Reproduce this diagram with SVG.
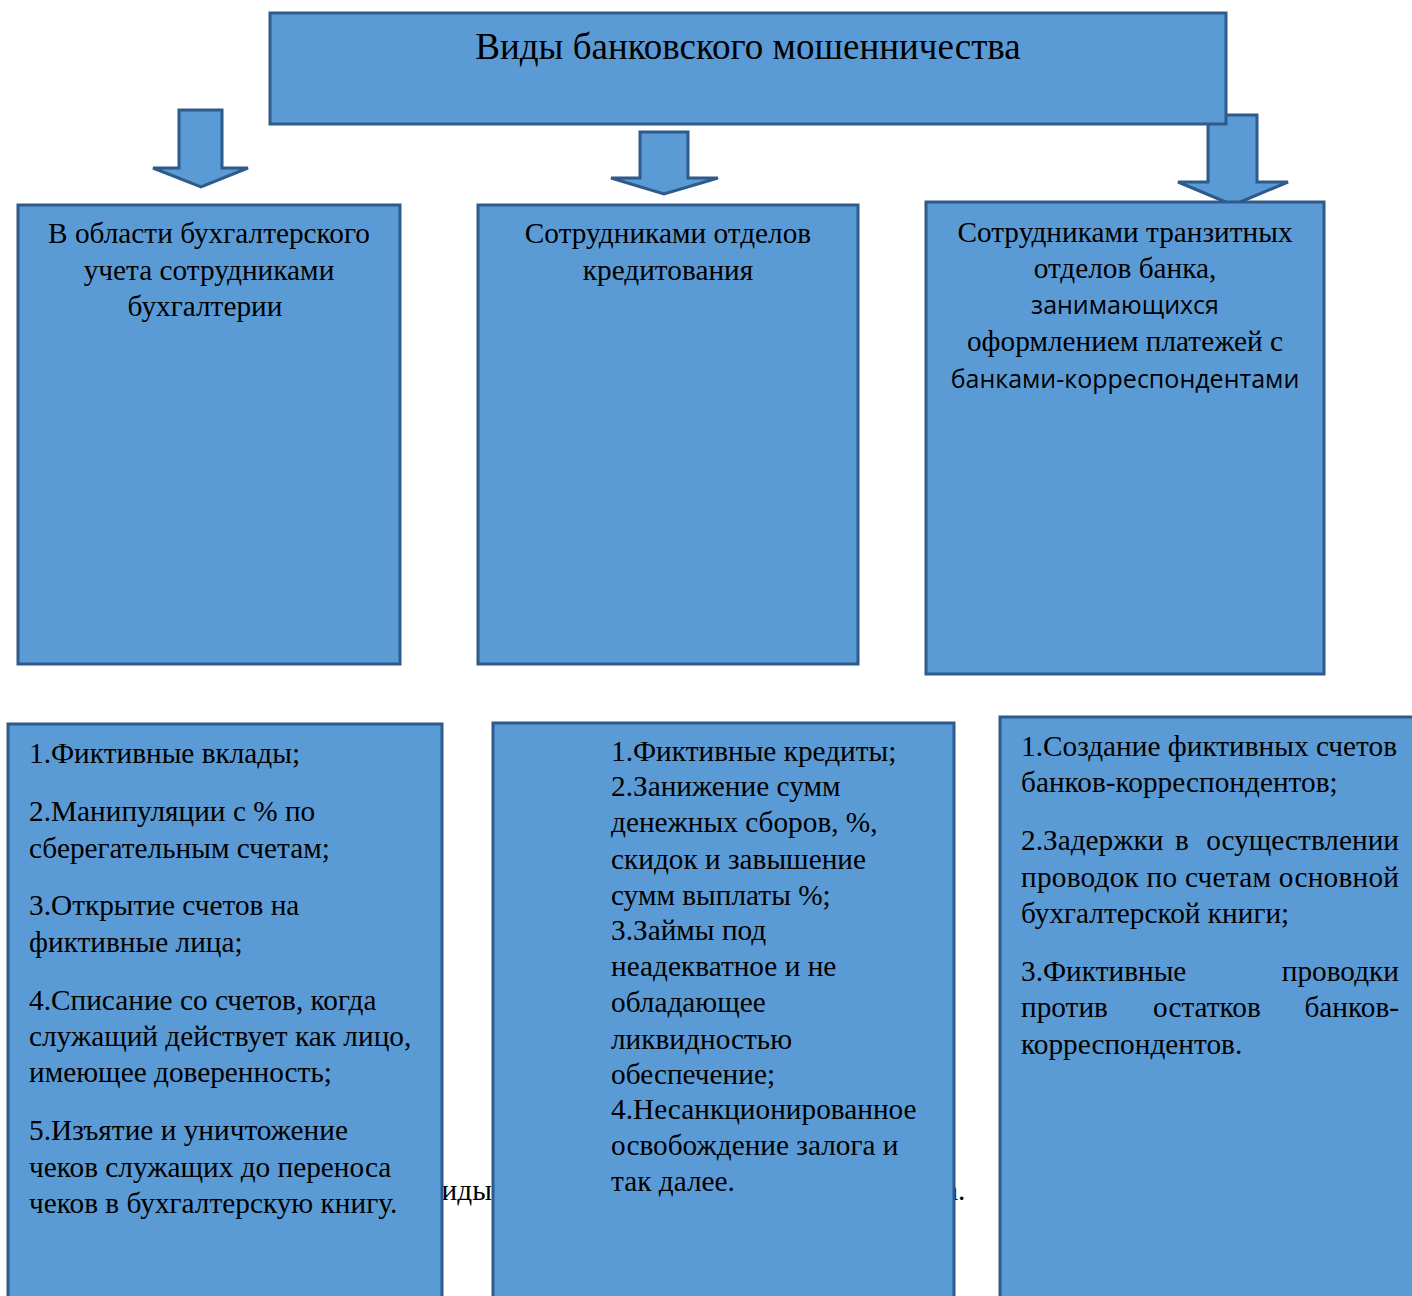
<svg xmlns="http://www.w3.org/2000/svg" width="1412" height="1296" viewBox="0 0 1412 1296">
<style>
.box{fill:#5B9BD5;stroke:#2E5B8B;stroke-width:3}
.arr{fill:#5B9BD5;stroke:#2E5B8B;stroke-width:3;stroke-linejoin:miter}
text{font-family:"Liberation Serif","DejaVu Serif",serif;fill:#000}
.t{font-size:37px}
.h{font-size:29.3px;text-anchor:middle}
.s{font-family:"Open Sans","Noto Sans",sans-serif;font-size:25px}
.b{font-size:29.3px}
.e{text-anchor:end}
</style>
<rect width="1412" height="1296" fill="#fff"/>
<g id="caption">
<text class="b" x="422" y="1200">Виды</text>
<text class="b" x="945" y="1200">а.</text>
</g>
<g id="connectors">
<polygon class="arr" points="179,110 222,110 222,168 248,168 201,187 153,168 179,168"/>
<polygon class="arr" points="640,132 688,132 688,178 718,178 664,194 611,178 640,178"/>
<polygon class="arr" points="1208,115 1257,115 1257,182 1288,182 1233,205 1178,182 1208,182"/>
</g>
<g id="root">
<rect class="box" x="270" y="13" width="956" height="111"/>
<text class="t" x="748" y="59" text-anchor="middle">Виды банковского мошенничества</text>
</g>
<g id="cat1">
<rect class="box" x="18" y="205" width="382" height="459"/>
<text class="h" x="209" y="243">В области бухгалтерского</text>
<text class="h" x="209" y="280">учета сотрудниками</text>
<text class="h" x="205" y="316">бухгалтерии</text>
</g>
<g id="cat2">
<rect class="box" x="478" y="205" width="380" height="459"/>
<text class="h" x="668" y="243">Сотрудниками отделов</text>
<text class="h" x="668" y="280">кредитования</text>
</g>
<g id="cat3">
<rect class="box" x="926" y="202" width="398" height="472"/>
<text class="h" x="1125" y="242">Сотрудниками транзитных</text>
<text class="h" x="1125" y="278">отделов банка,</text>
<text class="s" x="1125" y="314" text-anchor="middle">занимающихся</text>
<text class="h" x="1125" y="351">оформлением платежей с</text>
<text class="s" x="1125" y="388" text-anchor="middle">банками-корреспондентами</text>
</g>
<g id="list1">
<rect class="box" x="8" y="724" width="434" height="590"/>
<text class="b" x="29" y="763">1.Фиктивные вклады;</text>
<text class="b" x="29" y="821">2.Манипуляции с % по</text>
<text class="b" x="29" y="858">сберегательным счетам;</text>
<text class="b" x="29" y="915">3.Открытие счетов на</text>
<text class="b" x="29" y="952">фиктивные лица;</text>
<text class="b" x="29" y="1010">4.Списание со счетов, когда</text>
<text class="b" x="29" y="1046">служащий действует как лицо,</text>
<text class="b" x="29" y="1082">имеющее доверенность;</text>
<text class="b" x="29" y="1140">5.Изъятие и уничтожение</text>
<text class="b" x="29" y="1177">чеков служащих до переноса</text>
<text class="b" x="29" y="1213">чеков в бухгалтерскую книгу.</text>
</g>
<g id="list2">
<rect class="box" x="493" y="723" width="461" height="590"/>
<text class="b" x="611" y="761">1.Фиктивные кредиты;</text>
<text class="b" x="611" y="796">2.Занижение сумм</text>
<text class="b" x="611" y="832">денежных сборов, %,</text>
<text class="b" x="611" y="869">скидок и завышение</text>
<text class="b" x="611" y="905">сумм выплаты %;</text>
<text class="b" x="611" y="940">3.Займы под</text>
<text class="b" x="611" y="976">неадекватное и не</text>
<text class="b" x="611" y="1012">обладающее</text>
<text class="b" x="611" y="1049">ликвидностью</text>
<text class="b" x="611" y="1084">обеспечение;</text>
<text class="b" x="611" y="1119">4.Несанкционированное</text>
<text class="b" x="611" y="1155">освобождение залога и</text>
<text class="b" x="611" y="1191">так далее.</text>
</g>
<g id="list3">
<rect class="box" x="1000" y="717" width="420" height="600"/>
<text class="b" x="1021" y="756">1.Создание фиктивных счетов</text>
<text class="b" x="1021" y="792">банков-корреспондентов;</text>
<text class="b" x="1021" y="850">2.Задержки</text>
<text class="b" x="1175" y="850">в</text>
<text class="b e" x="1399" y="850">осуществлении</text>
<text class="b" x="1021" y="887" textLength="378">проводок по счетам основной</text>
<text class="b" x="1021" y="923">бухгалтерской книги;</text>
<text class="b" x="1021" y="981">3.Фиктивные</text>
<text class="b e" x="1399" y="981">проводки</text>
<text class="b" x="1021" y="1017">против</text>
<text class="b" x="1153" y="1017">остатков</text>
<text class="b e" x="1399" y="1017">банков-</text>
<text class="b" x="1021" y="1054">корреспондентов.</text>
</g>
</svg>
